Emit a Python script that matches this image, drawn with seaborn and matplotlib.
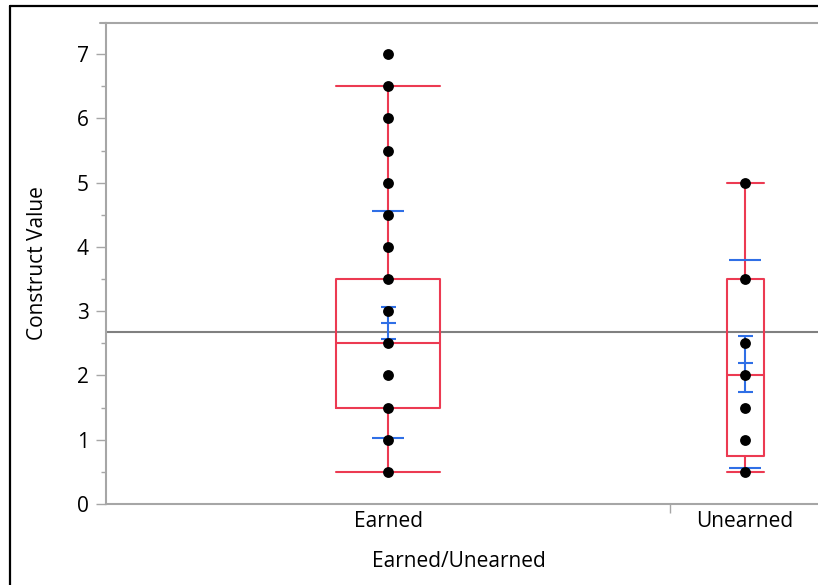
import numpy as np
import pandas as pd
import matplotlib.pyplot as plt
import matplotlib.ticker as mtick
from matplotlib.lines import Line2D
import seaborn as sns

# data --------------------------------------------------------------
categories = ["Earned", "Unearned"]
earned_values = [0.5, 1, 1.5, 2, 2.5, 3, 3.5, 4, 4.5, 5, 5.5, 6, 6.5, 7]
unearned_values = [0.5, 1, 1.5, 2, 2.5, 3.5, 5]

# box plot summary per group
q1 = [1.5, 0.75]
medians = [2.5, 2.0]
q3 = [3.5, 3.5]
whisker_low = [0.5, 0.5]
whisker_high = [6.5, 5.0]

# means, 95% ci and +-1 std dev per group
means = [2.81, 2.19]
ci_low = [2.56, 1.75]
ci_high = [3.06, 2.62]
sd_low = [1.03, 0.56]
sd_high = [4.56, 3.80]

grand_mean = 2.67
# ------------------------------------------------------------------

RED = "#EC3A52"
BLUE = "#2F6FE6"
GRID = "#A6A6A6"
FS = 15

df = pd.DataFrame({
    "Earned/Unearned": ["Earned"] * len(earned_values) + ["Unearned"] * len(unearned_values),
    "Construct Value": earned_values + unearned_values,
})

sns.set_theme(style="white")
plt.rcParams["font.family"] = ["Open Sans", "DejaVu Sans"]

fig = plt.figure(figsize=(8.18, 5.85), dpi=100)
ax = fig.add_axes([106 / 818, 81 / 585, 713 / 818, 481.3 / 585])

# grand mean line
ax.axhline(grand_mean, color="#808080", lw=1.5, zorder=1)

# box plots (widths proportional to group size like JMP)
box_w = [0.29, 0.104]
stats = []
for i, c in enumerate(categories):
    stats.append(dict(label=c, med=medians[i], q1=q1[i], q3=q3[i],
                      whislo=whisker_low[i], whishi=whisker_high[i], fliers=[]))
ax.bxp(stats, positions=[0, 1], widths=box_w, capwidths=box_w,
       showfliers=False, manage_ticks=False, patch_artist=False,
       boxprops=dict(color=RED, lw=1.5), medianprops=dict(color=RED, lw=1.5),
       whiskerprops=dict(color=RED, lw=1.5), capprops=dict(color=RED, lw=1.5),
       zorder=2)

# mean / ci / std dev marks
for i in range(len(categories)):
    ax.vlines(i, ci_low[i], ci_high[i], color=BLUE, lw=1.5, zorder=3)
    ax.hlines([ci_low[i], means[i], ci_high[i]], i - 0.021, i + 0.021, color=BLUE, lw=1.5, zorder=3)
    ax.hlines([sd_low[i], sd_high[i]], i - 0.044, i + 0.044, color=BLUE, lw=1.5, zorder=3)

# points
sns.stripplot(data=df, x="Earned/Unearned", y="Construct Value", order=categories,
              jitter=False, color="black", size=7.8, linewidth=0, ax=ax, zorder=4)

ax.set_xlim(-0.79, 1.207)
ax.set_ylim(0, 7.49)

ax.yaxis.set_major_locator(mtick.MultipleLocator(1))
ax.yaxis.set_minor_locator(mtick.MultipleLocator(0.5))
ax.xaxis.set_minor_locator(mtick.FixedLocator([0.79]))
ax.tick_params(axis="y", which="major", left=True, length=7.5, width=1, color=GRID,
               labelsize=FS, pad=5, labelcolor="black")
ax.tick_params(axis="y", which="minor", left=True, length=3.8, width=1, color=GRID)
ax.tick_params(axis="x", which="major", bottom=True, length=0, labelsize=FS, pad=5, labelcolor="black")
ax.tick_params(axis="x", which="minor", bottom=True, length=6.5, width=1, color=GRID)

for side in ["left", "bottom", "top"]:
    ax.spines[side].set_color(GRID)
    ax.spines[side].set_linewidth(1.5)
ax.spines["right"].set_visible(False)

ax.set_xlabel("Earned/Unearned", fontsize=FS, color="black")
ax.set_ylabel("Construct Value", fontsize=FS, color="black")
ax.xaxis.set_label_coords(0.495, -0.098)
ax.yaxis.set_label_coords(-0.082, 0.5)

# top spine stub to the left of the corner
fig.add_artist(Line2D([100 / 818, 106 / 818], [1 - 22.7 / 585] * 2, color=GRID, lw=1.5))

# outer report frame
fig.add_artist(Line2D([10 / 818, 10 / 818], [0, 1 - 6 / 585], color="black", lw=1.6))
fig.add_artist(Line2D([10 / 818, 1], [1 - 6 / 585] * 2, color="black", lw=1.6))

# report title, mostly cut off above the picture
fig.text(74 / 818, 1 + 4.5 / 585, "Oneway Analysis of Construct Value By Earned/Unearned",
         family=["Liberation Serif", "DejaVu Serif"], weight="bold", style="italic",
         fontsize=19, va="baseline", ha="left", color="black")

fig.savefig("out.png", dpi=100)
